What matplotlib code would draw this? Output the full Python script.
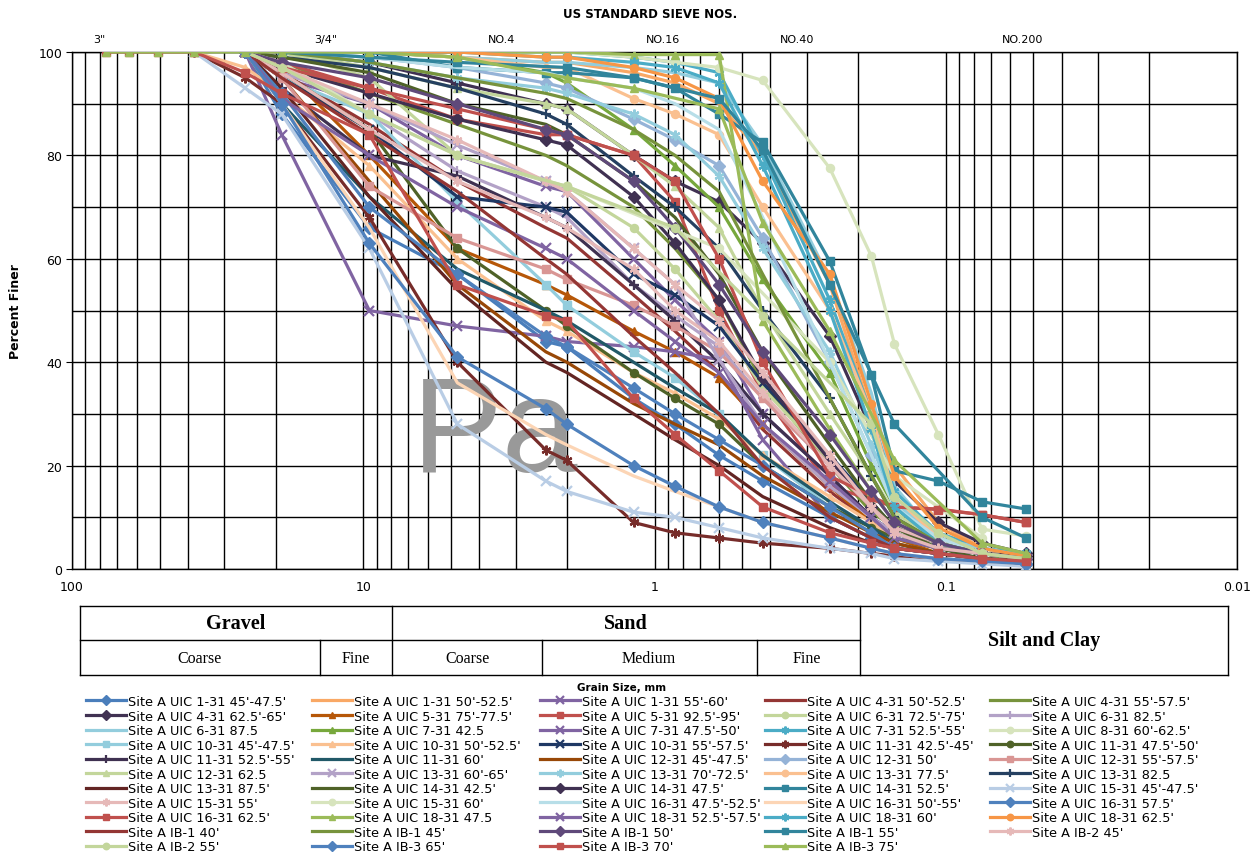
import matplotlib
matplotlib.use('Agg')
import matplotlib.pyplot as plt
from matplotlib.lines import Line2D

N = None

# sieve openings, mm
SIZES = [76.2, 63.5, 50.8, 38.1, 25.4, 19.05, 9.525, 4.75, 2.36, 2.0,
         1.18, 0.85, 0.6, 0.425, 0.25, 0.18, 0.15, 0.106, 0.075, 0.053]

SIEVE_NAMES = ['3"', '3/4"', 'NO.4', 'NO.16', 'NO.40', 'NO.200']

LABELS = [
    "Site A UIC 1-31 45'-47.5'", "Site A UIC 1-31 50'-52.5'", "Site A UIC 1-31 55'-60'",
    "Site A UIC 4-31 50'-52.5'", "Site A UIC 4-31 55'-57.5'", "Site A UIC 4-31 62.5'-65'",
    "Site A UIC 5-31 75'-77.5'", "Site A UIC 5-31 92.5'-95'", "Site A UIC 6-31 72.5'-75'",
    "Site A UIC 6-31 82.5'", "Site A UIC 6-31 87.5", "Site A UIC 7-31 42.5",
    "Site A UIC 7-31 47.5'-50'", "Site A UIC 7-31 52.5'-55'", "Site A UIC 8-31 60'-62.5'",
    "Site A UIC 10-31 45'-47.5'", "Site A UIC 10-31 50'-52.5'", "Site A UIC 10-31 55'-57.5'",
    "Site A UIC 11-31 42.5'-45'", "Site A UIC 11-31 47.5'-50'", "Site A UIC 11-31 52.5'-55'",
    "Site A UIC 11-31 60'", "Site A UIC 12-31 45'-47.5'", "Site A UIC 12-31 50'",
    "Site A UIC 12-31 55'-57.5'", "Site A UIC 12-31 62.5", "Site A UIC 13-31 60'-65'",
    "Site A UIC 13-31 70'-72.5'", "Site A UIC 13-31 77.5'", "Site A UIC 13-31 82.5",
    "Site A UIC 13-31 87.5'", "Site A UIC 14-31 42.5'", "Site A UIC 14-31 47.5'",
    "Site A UIC 14-31 52.5'", "Site A UIC 15-31 45'-47.5'", "Site A UIC 15-31 55'",
    "Site A UIC 15-31 60'", "Site A UIC 16-31 47.5'-52.5'", "Site A UIC 16-31 50'-55'",
    "Site A UIC 16-31 57.5'", "Site A UIC 16-31 62.5'", "Site A UIC 18-31 47.5",
    "Site A UIC 18-31 52.5'-57.5'", "Site A UIC 18-31 60'", "Site A UIC 18-31 62.5'",
    "Site A IB-1 40'", "Site A IB-1 45'", "Site A IB-1 50'", "Site A IB-1 55'",
    "Site A IB-2 45'", "Site A IB-2 55'", "Site A IB-3 65'", "Site A IB-3 70'",
    "Site A IB-3 75'",
]

# percent finer at each sieve (None = not tested)
PASSING = [
    [N, N, N, N, 100, 88, 66, 57, 44, 43, 33, 28, 22, 17, 10, 6, 4, 3, 2, 1],
    [N, N, N, N, N, 100, 100, 99, 98, 98, 96, 94, 90, 80, 55, 30, 20, 9, 4, 2],
    [N, N, N, N, 100, 95, 90, 80, 74, 73, 60, 52, 44, 30, 18, 10, 7, 4, 3, 2],
    [N, N, N, N, 100, 96, 86, 75, 66, 64, 53, 46, 38, 27, 15, 9, 6, 4, 3, 2],
    [N, N, N, N, 100, 98, 92, 86, 80, 78, 70, 62, 52, 36, 20, 11, 8, 4, 3, 2],
    [N, N, N, N, N, 100, 98, 94, 90, 89, 80, 75, 71, 63, 45, 27, 17, 9, 5, 3],
    [N, N, N, N, 100, 97, 80, 62, 55, 53, 46, 42, 37, 28, 16, 9, 6, 3, 2, 1.5],
    [N, N, N, N, 100, 98, 93, 87, 84, 84, 80, 71, 50, 34, 16, N, 12, 11.6, 10.5, 9],
    [N, N, N, N, N, 100, 95, 80, 75, 74, 66, 58, 48, 35, 21, 12, 8, 4, 3, 2],
    [N, N, N, N, 100, 97, 88, 77, 70, 68, 55, 49, 43, 33, 20, 12, 8, 5, 3, 2],
    [N, N, N, N, N, 100, 100, 99, 98, 98, 97, 96, 94, 82, 56, 34, 16, 6, 3, 1.5],
    [N, N, N, N, N, N, 100, 99, 96, 94, 85, 78, 70, 56, 38, 20, 12, 5, 3, 1.5],
    [N, N, N, N, 100, 84, 50, 47, 45, 44, 43, 42, 40.5, 25, 10, 6, 4, 3, 2, 1.5],
    [N, N, N, N, N, N, 100, 100, 100, 100, 99, 98, 96, 80, 52, 30, 15, 7, 4, 3],
    [N, N, N, N, N, N, N, 100, N, 100, 99, 98, 97, 94.5, 77.5, 60.5, 43.5, 26, 7.7, 6.4],
    [N, N, N, N, 100, 95, 88, 71, 55, 51, 42, 37, 30, 22, 12, N, 6, N, 3, 2],
    [N, N, N, 100, 97, 92, 78, 60, 48, 46, 38, 34, 29, 22, 14, 9, 6, 4, 3, 2],
    [N, N, N, N, 100, 95, 85, 72, 70, 69, 57, 53, 47, 36, 22, 13, 8, 5, 3, 2],
    [N, N, N, 100, 95, 90, 68, 40, 23, 21, 9, 7, 6, 5, 4, 3, 2.5, 2, 1.5, 1],
    [N, N, N, N, 100, 96, 85, 62, 50, 47, 38, 33, 28, 20, 12, 8, 6, 4, 3, 2],
    [N, N, N, N, 100, 93, 80, 76, 68, 66, 55, 48, 40, 30, 18, 10, 7, 4, 3, 2],
    [N, N, N, N, 100, 90, 72, 58, 50, 48, 40, 35, 30, 22, 13, 8, 5, 3, 2, 1.5],
    [N, N, N, N, 100, 95, 75, 55, 42, 40, 32, 28, 24, 18, 11, 7, 5, 3, 2, 1],
    [N, N, N, N, N, 100, 99, 97, 94, 93, 87, 83, 78, 64, 40, 22, 12, 6, 3, 2],
    [N, N, N, N, 100, 95, 74, 64, 58, 56, 51, 47, 42, 33, 20, 12, 8, 5, 3, 2],
    [N, N, N, N, N, 100, 97, 93, 90, 89, 80, 74, 66, 50, 30, 18, 11, 5, 3, 2],
    [N, N, N, N, 100, 96, 90, 82, 75, 73, 62, 55, 40.5, 28, 16, 10, 7, 4, 3, 2],
    [N, N, N, N, N, 100, 98, 95, 93, 92, 88, 84, 76, 62, 42, 24, 13, 6, 4, 2.5],
    [N, N, N, N, N, N, 100, 99, 97, 97, 91, 88, 84, 70, 50, 30, 14, 6, 3, 2],
    [N, N, N, N, 100, 99, 97, 93, 88, 86, 76, 70, 62, 50, 33, 18, 10, 5, 3, 2],
    [N, N, N, N, 100, 93, 72, 54, 40, 38, 30, 25, 20, 14, 8, 5, 4, 3, 2, 1.5],
    [N, N, N, N, 100, 99, 96, 90, 86, 84, 75, 68, 57, 42, 24, 13, 8, 4, 2, 1.5],
    [N, N, N, N, 100, 97, 92, 87, 83, 82, 72, 63, 52, 37, 21, 12, 8, 5, 3, 2.5],
    [N, N, N, N, N, N, 100, 97, 96, 96, 95, 93, 88, 82.5, 59.5, 37.5, 19, 17, 13, 11.6],
    [N, N, N, 100, 93, 88, 62, 28, 17, 15, 11, 10, 8, 6, 4, 3, 2, 1.5, 1, 0.5],
    [N, N, N, N, 100, 96, 85, 75, 68, 66, 58, 50, 44, 34, 20, 12, 8, 5, 3, 2],
    [N, N, N, N, 100, 98, 88, 80, N, 74, N, N, 62, N, 40, N, 18, N, 6, N],
    [N, N, N, N, N, 100, 99, 97, 96, 95, 93, 90, 85, 68, 40, 22, 12, 6, 3, 2],
    [N, N, N, N, 100, 90, 66, 36, 26, 24, 18, 15, 12, 9, 6, 4, 3, 2, 1.5, 1],
    [N, N, N, N, 100, 92, 70, 57, 45, 43, 35, 30, 25, 20, 12, 7, 4, 3, 2, 1],
    [N, N, N, N, 100, 97, 93, 89, 85, 84, 80, 75, 60, 40, 18, 14, 12, 11.5, 10.5, 9],
    [N, N, N, N, N, 100, 100, 100, 100, 100, 99.5, 99.5, 99.5, 48, 27, 15, 9, 5, 3, 2],
    [N, N, N, N, 100, 91, 80, 70, 62, 60, 50, 44, 38, 28, 17, 10, 6, 4, 3, 2],
    [N, N, N, N, N, N, 100, 100, 99, 99, 98, 97, 94, 78, 50, 27, 12, 5, 3, 2],
    [N, N, N, N, N, N, 100, 100, 99, 99, 97, 95, 91, 75, 57, 32, 18, 8, 4, 2.5],
    [N, N, N, N, 100, 95, 84, 73, 60, 57, 45, 38, 30, 20, 10, 6, 4, 3, 2, 1],
    [N, N, N, N, N, 100, 98, 95, 92, 91, 85, 80, 73, 57, 33, 18, 10, 5, 3, 2],
    [N, N, N, N, 100, 98, 95, 90, 85, 84, 75, 66, 55, 42, 26, 15, 9, 5, 3, 2],
    [N, N, N, N, N, 100, 99, 98, N, 97, 95, N, 91, 81, 55, N, 28, N, 10, 6],
    [N, N, N, N, 100, 97, 90, 83, 75, 73, 62, 55, 48, 38, 22, 12, 7, 4, 3, 2],
    [N, N, N, N, 100, 97, 88, 80, N, 74, N, 66, N, 49, N, 28, 14, 7, 3, 2],
    [N, N, N, N, 100, 90, 63, 41, 31, 28, 20, 16, 12, 9, 6, 4, 3, 2, 1.5, 1],
    [100, 100, 100, 100, 96, 92, 84, 55, 49, 48, 33, 26, 19, 12, 7, 5, 4, 3, 2, 1.5],
    [100, 100, 100, 100, 100, 100, 100, 99, N, 95, 93, N, 89, 67, 46, N, 21, N, 5, 3],
]

COLORS = [
    '#4a7ebb', '#f9a865', '#8064a2', '#943634', '#77933c', '#403152',
    '#b65708', '#c0504d', '#c3d69b', '#b3a2c7', '#93cddd', '#77a83c',
    '#8064a2', '#4bacc6', '#d7e4bd', '#93cddd', '#fac090', '#1f3864',
    '#772c2a', '#4f6228', '#3f3151', '#215968', '#984807', '#95b3d7',
    '#d99694', '#c3d69b', '#b3a2c7', '#93cddd', '#fac090', '#254061',
    '#632523', '#4f6228', '#403152', '#31859c', '#b9cde5', '#e6b9b8',
    '#d7e4bd', '#b7dee8', '#fcd5b5', '#4f81bd', '#c0504d', '#9bbb59',
    '#8064a2', '#4bacc6', '#f79646', '#943634', '#77933c', '#5f497a',
    '#31859c', '#e6b9b8', '#c3d69b', '#4f81bd', '#c0504d', '#9bbb59',
]

STAR = (6, 2, 0)
MARKERS = [
    'D', '', 'x', '', '', 'D', '^', 's', 'o', '+', '', '^',
    'x', STAR, 'o', 's', '^', 'x', STAR, 'o', '+', '', '', 'D',
    's', '^', 'x', STAR, 'o', '+', '', '', 'D', 's', 'x', STAR,
    'o', '', '', 'D', 's', '^', 'x', STAR, 'o', '', '', 'D',
    's', STAR, 'o', 'D', 's', '^',
]

W, H = 1257, 854


def fx(px):
    return px / W


def fy(py):
    return 1 - py / H


plt.rcParams['font.family'] = ['DejaVu Sans']
fig = plt.figure(figsize=(W / 100, H / 100), dpi=100)
ax = fig.add_axes([fx(72), fy(570), fx(1237) - fx(72), fy(53) - fy(570)])

# watermark behind the curves
ax.text(0.292, 0.19, 'Pa', transform=ax.transAxes, fontsize=98, color='#999999',
        family=['Liberation Sans', 'DejaVu Sans'], ha='left', va='baseline', zorder=1)

handles = []
for lab, vals, col, mk in zip(LABELS, PASSING, COLORS, MARKERS):
    xs = [s for s, v in zip(SIZES, vals) if v is not None]
    ys = [v for v in vals if v is not None]
    ms = 7 if mk in ('x', '+', STAR) else 5.8
    mew = 1.6 if mk in ('x', '+', STAR) else 1
    h, = ax.plot(xs, ys, color=col, lw=2.3, marker=mk if mk else None,
                 ms=ms, mew=mew, zorder=3, label=lab)
    handles.append(h)

ax.set_xscale('log')
ax.set_xlim(100, 0.01)
ax.set_ylim(0, 100)
ax.set_yticks([0, 20, 40, 60, 80, 100])
ax.set_yticks(range(0, 101, 10), minor=True)
ax.set_xticks([100, 10, 1, 0.1, 0.01])
ax.set_xticklabels(['100', '10', '1', '0.1', '0.01'])
ax.grid(True, which='both', axis='both', color='black', lw=1.0, zorder=0)
ax.tick_params(axis='x', which='both', length=0, labelsize=9, pad=8)
ax.tick_params(axis='y', which='major', length=4, labelsize=9, pad=3)
ax.tick_params(axis='y', which='minor', length=0)
ax.set_axisbelow(True)
for sp in ax.spines.values():
    sp.set_color('black')
    sp.set_linewidth(1.0)
ax.set_ylabel('Percent Finer', fontsize=9, fontweight='bold', labelpad=12)

fig.text(fx(650), fy(15), 'US STANDARD SIEVE NOS.', fontsize=8.5, fontweight='bold',
         ha='center', va='center')
for name, px in zip(SIEVE_NAMES, [99, 326, 502, 663, 797, 1023]):
    fig.text(fx(px), fy(40), name, fontsize=8, ha='center', va='center')

# soil classification table under the axis
serif = ['Liberation Serif', 'DejaVu Serif']
box_lines = [
    ((80, 1228), (607, 607)), ((80, 1228), (676, 676)), ((80, 860), (641, 641)),
    ((80, 80), (607, 676)), ((1228, 1228), (607, 676)), ((392, 392), (607, 676)),
    ((860, 860), (607, 676)), ((320, 320), (641, 676)), ((542, 542), (641, 676)),
    ((757, 757), (641, 676)),
]
for (x0, x1), (y0, y1) in box_lines:
    fig.add_artist(Line2D([fx(x0), fx(x1)], [fy(y0), fy(y1)], color='black', lw=1.0))
fig.text(fx(236), fy(624), 'Gravel', family=serif, fontsize=14.5, fontweight='bold',
         ha='center', va='center')
fig.text(fx(626), fy(624), 'Sand', family=serif, fontsize=14.5, fontweight='bold',
         ha='center', va='center')
fig.text(fx(1044), fy(641), 'Silt and Clay', family=serif, fontsize=14.5, fontweight='bold',
         ha='center', va='center')
for txt, px in [('Coarse', 200), ('Fine', 356), ('Coarse', 467), ('Medium', 649), ('Fine', 807)]:
    fig.text(fx(px), fy(659), txt, family=serif, fontsize=11.5, ha='center', va='center')

fig.text(fx(622), fy(688), 'Grain Size, mm', fontsize=7.5, fontweight='bold',
         ha='center', va='center')

# legend, filled row by row, one legend per column
col_x = [86, 312, 540, 765, 990]
for c, cx in enumerate(col_x):
    hs = handles[c::5]
    fig.legend(hs, [h.get_label() for h in hs], loc='upper left',
               bbox_to_anchor=(fx(cx), fy(696)), frameon=False, fontsize=9.3,
               handlelength=3.1, handletextpad=0.12, labelspacing=0.12,
               borderpad=0, borderaxespad=0, markerscale=0.8)

fig.savefig('out.png', dpi=100)
